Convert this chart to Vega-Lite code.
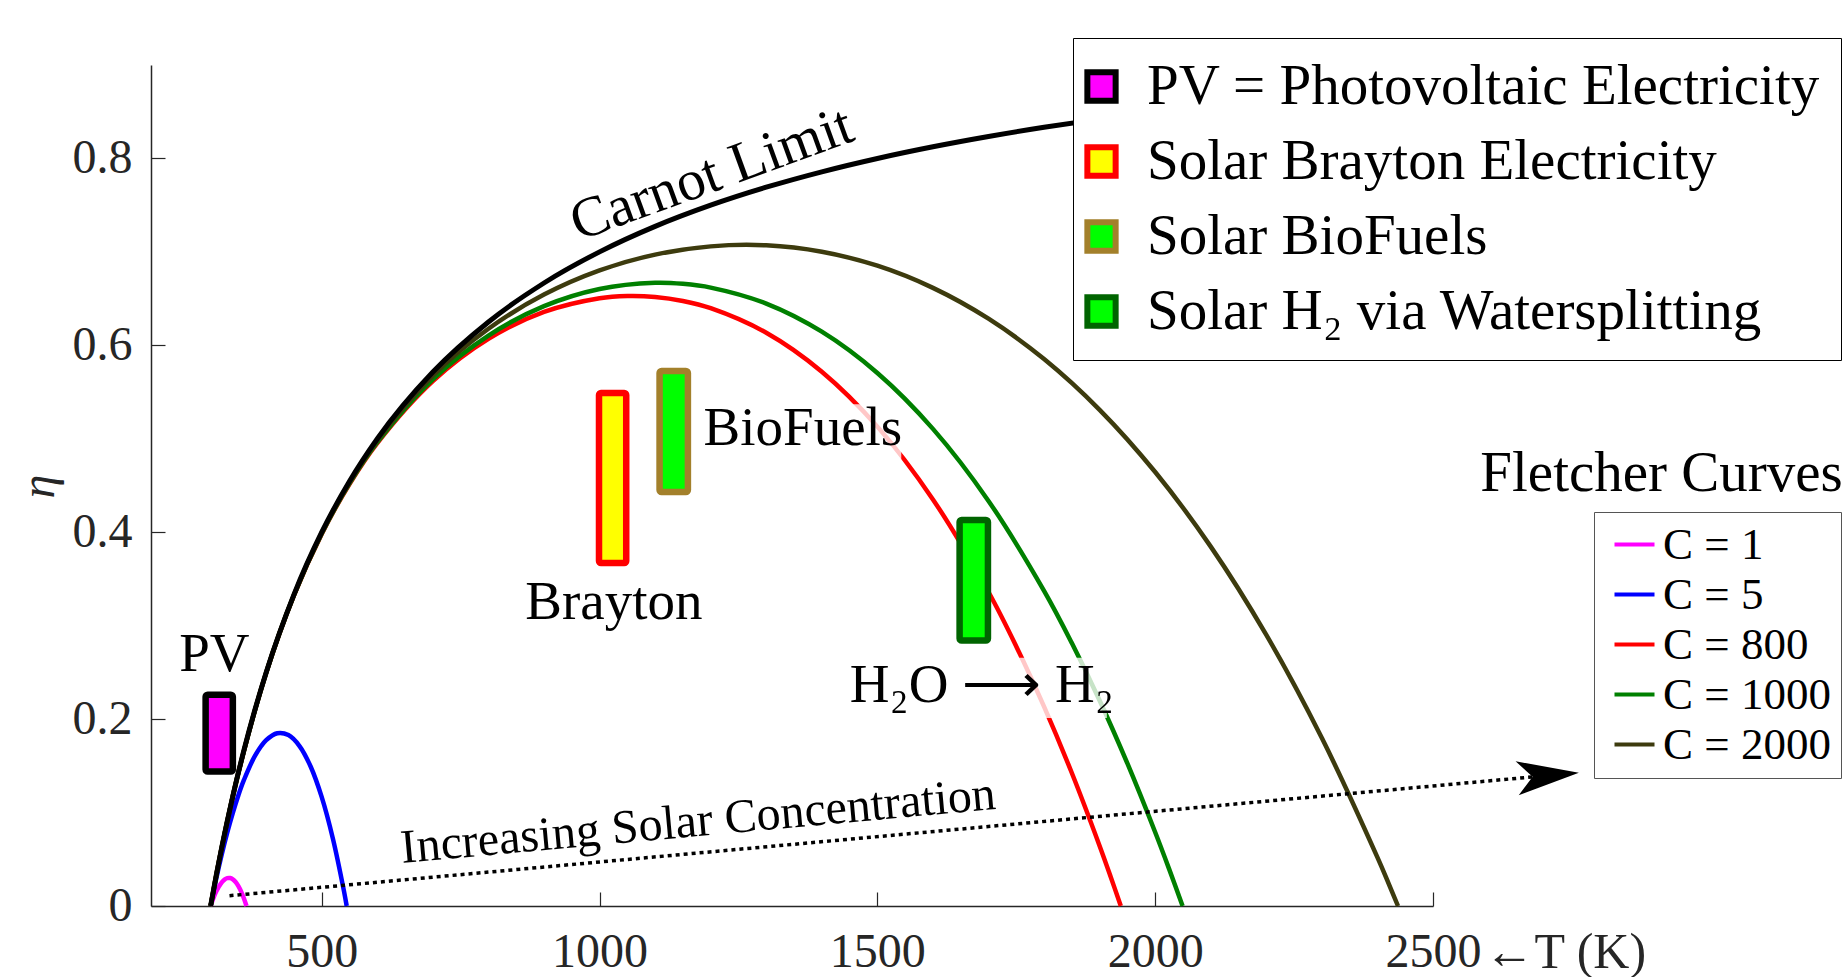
{
  "$schema": "https://vega.github.io/schema/vega-lite/v6.json",
  "width": 1282,
  "height": 841,
  "autosize": {"type": "none"},
  "padding": {"left": 151, "top": 65, "right": 412, "bottom": 71},
  "background": "white",
  "config": {"view": {"stroke": null}, "font": "Liberation Serif"},
  "encoding": {
    "x": {
      "field": "T", "type": "quantitative",
      "scale": {"domain": [192.7, 2500], "nice": false, "zero": false},
      "axis": {
        "values": [500, 1000, 1500, 2000, 2500], "format": "d", "grid": false,
        "title": "←T (K)", "tickSize": -14, "tickColor": "#262626", "tickWidth": 1.2,
        "domainColor": "#262626", "domainWidth": 1.5,
        "labelFont": "Liberation Serif", "labelFontSize": 48, "labelColor": "#262626",
        "labelBaseline": "alphabetic", "labelPadding": 74, "labelFlush": false, "labelOverlap": false,
        "titleFont": "Liberation Serif", "titleFontSize": 50, "titleFontWeight": "normal", "titleColor": "#262626",
        "titleX": 1333, "titleY": 61, "titleAlign": "left", "titleBaseline": "alphabetic", "titleAngle": 0
      }
    },
    "y": {
      "field": "eta", "type": "quantitative",
      "scale": {"domain": [0, 0.9], "nice": false, "zero": false},
      "axis": {
        "values": [0, 0.2, 0.4, 0.6, 0.8], "format": "~g", "grid": false,
        "title": "η", "tickSize": -14, "tickColor": "#262626", "tickWidth": 1.2,
        "domainColor": "#262626", "domainWidth": 1.5,
        "labelFont": "Liberation Serif", "labelFontSize": 48, "labelColor": "#262626",
        "labelPadding": 33, "labelFlush": false, "labelOverlap": false,
        "titleFont": "Liberation Serif", "titleFontSize": 48, "titleFontWeight": "normal", "titleFontStyle": "italic", "titleColor": "#262626",
        "titleX": -98, "titleY": 421, "titleAlign": "center", "titleBaseline": "alphabetic", "titleAngle": 270
      }
    }
  },
  "layer": [
    {
      "data": {"values": [
        {"curve": "C = 1", "T": 300, "eta": 0}, {"curve": "C = 1", "T": 310, "eta": 0.0154}, {"curve": "C = 1", "T": 320, "eta": 0.0253}, {"curve": "C = 1", "T": 325, "eta": 0.0283}, {"curve": "C = 1", "T": 330, "eta": 0.0298}, {"curve": "C = 1", "T": 335, "eta": 0.0299}, {"curve": "C = 1", "T": 340, "eta": 0.0285}, {"curve": "C = 1", "T": 345, "eta": 0.0257}, {"curve": "C = 1", "T": 350, "eta": 0.0213}, {"curve": "C = 1", "T": 355, "eta": 0.0154}, {"curve": "C = 1", "T": 360, "eta": 0.008}, {"curve": "C = 1", "T": 364.6, "eta": 0},
        {"curve": "C = 5", "T": 300, "eta": 0}, {"curve": "C = 5", "T": 310, "eta": 0.0289}, {"curve": "C = 5", "T": 320, "eta": 0.0551}, {"curve": "C = 5", "T": 330, "eta": 0.0787}, {"curve": "C = 5", "T": 340, "eta": 0.0998}, {"curve": "C = 5", "T": 350, "eta": 0.1186}, {"curve": "C = 5", "T": 360, "eta": 0.1349}, {"curve": "C = 5", "T": 380, "eta": 0.1608}, {"curve": "C = 5", "T": 400, "eta": 0.1774}, {"curve": "C = 5", "T": 420, "eta": 0.1849}, {"curve": "C = 5", "T": 440, "eta": 0.1829}, {"curve": "C = 5", "T": 460, "eta": 0.1712}, {"curve": "C = 5", "T": 480, "eta": 0.1493}, {"curve": "C = 5", "T": 500, "eta": 0.1165}, {"curve": "C = 5", "T": 520, "eta": 0.0723}, {"curve": "C = 5", "T": 540, "eta": 0.0159}, {"curve": "C = 5", "T": 544.9, "eta": 0},
        {"curve": "C = 800", "T": 300, "eta": 0}, {"curve": "C = 800", "T": 310, "eta": 0.0322}, {"curve": "C = 800", "T": 320, "eta": 0.0624}, {"curve": "C = 800", "T": 350, "eta": 0.1427}, {"curve": "C = 800", "T": 400, "eta": 0.2496}, {"curve": "C = 800", "T": 450, "eta": 0.3324}, {"curve": "C = 800", "T": 500, "eta": 0.3982}, {"curve": "C = 800", "T": 550, "eta": 0.4516}, {"curve": "C = 800", "T": 600, "eta": 0.4954}, {"curve": "C = 800", "T": 700, "eta": 0.5617}, {"curve": "C = 800", "T": 800, "eta": 0.6069}, {"curve": "C = 800", "T": 900, "eta": 0.6357}, {"curve": "C = 800", "T": 1000, "eta": 0.6504}, {"curve": "C = 800", "T": 1050, "eta": 0.6528}, {"curve": "C = 800", "T": 1100, "eta": 0.6518}, {"curve": "C = 800", "T": 1150, "eta": 0.6475}, {"curve": "C = 800", "T": 1200, "eta": 0.6398}, {"curve": "C = 800", "T": 1300, "eta": 0.6135}, {"curve": "C = 800", "T": 1400, "eta": 0.5718}, {"curve": "C = 800", "T": 1500, "eta": 0.513}, {"curve": "C = 800", "T": 1600, "eta": 0.4351}, {"curve": "C = 800", "T": 1700, "eta": 0.336}, {"curve": "C = 800", "T": 1750, "eta": 0.2778}, {"curve": "C = 800", "T": 1800, "eta": 0.2133}, {"curve": "C = 800", "T": 1850, "eta": 0.1423}, {"curve": "C = 800", "T": 1900, "eta": 0.0643}, {"curve": "C = 800", "T": 1920, "eta": 0.0311}, {"curve": "C = 800", "T": 1938.1, "eta": 0},
        {"curve": "C = 1000", "T": 300, "eta": 0}, {"curve": "C = 1000", "T": 310, "eta": 0.0322}, {"curve": "C = 1000", "T": 320, "eta": 0.0625}, {"curve": "C = 1000", "T": 350, "eta": 0.1427}, {"curve": "C = 1000", "T": 400, "eta": 0.2496}, {"curve": "C = 1000", "T": 450, "eta": 0.3326}, {"curve": "C = 1000", "T": 500, "eta": 0.3986}, {"curve": "C = 1000", "T": 550, "eta": 0.4522}, {"curve": "C = 1000", "T": 600, "eta": 0.4963}, {"curve": "C = 1000", "T": 700, "eta": 0.5637}, {"curve": "C = 1000", "T": 800, "eta": 0.6105}, {"curve": "C = 1000", "T": 900, "eta": 0.6419}, {"curve": "C = 1000", "T": 1000, "eta": 0.6603}, {"curve": "C = 1000", "T": 1100, "eta": 0.6669}, {"curve": "C = 1000", "T": 1150, "eta": 0.6658}, {"curve": "C = 1000", "T": 1200, "eta": 0.6618}, {"curve": "C = 1000", "T": 1300, "eta": 0.6447}, {"curve": "C = 1000", "T": 1400, "eta": 0.6146}, {"curve": "C = 1000", "T": 1500, "eta": 0.5704}, {"curve": "C = 1000", "T": 1600, "eta": 0.5106}, {"curve": "C = 1000", "T": 1700, "eta": 0.4335}, {"curve": "C = 1000", "T": 1800, "eta": 0.3373}, {"curve": "C = 1000", "T": 1850, "eta": 0.2814}, {"curve": "C = 1000", "T": 1900, "eta": 0.2199}, {"curve": "C = 1000", "T": 1950, "eta": 0.1525}, {"curve": "C = 1000", "T": 2000, "eta": 0.0789}, {"curve": "C = 1000", "T": 2025, "eta": 0.0397}, {"curve": "C = 1000", "T": 2049.3, "eta": 0},
        {"curve": "C = 2000", "T": 300, "eta": 0}, {"curve": "C = 2000", "T": 310, "eta": 0.0323}, {"curve": "C = 2000", "T": 320, "eta": 0.0625}, {"curve": "C = 2000", "T": 350, "eta": 0.1428}, {"curve": "C = 2000", "T": 400, "eta": 0.2498}, {"curve": "C = 2000", "T": 450, "eta": 0.333}, {"curve": "C = 2000", "T": 500, "eta": 0.3993}, {"curve": "C = 2000", "T": 550, "eta": 0.4534}, {"curve": "C = 2000", "T": 600, "eta": 0.4982}, {"curve": "C = 2000", "T": 700, "eta": 0.5675}, {"curve": "C = 2000", "T": 800, "eta": 0.6177}, {"curve": "C = 2000", "T": 900, "eta": 0.6543}, {"curve": "C = 2000", "T": 1000, "eta": 0.6802}, {"curve": "C = 2000", "T": 1100, "eta": 0.6971}, {"curve": "C = 2000", "T": 1200, "eta": 0.7059}, {"curve": "C = 2000", "T": 1300, "eta": 0.707}, {"curve": "C = 2000", "T": 1400, "eta": 0.7001}, {"curve": "C = 2000", "T": 1500, "eta": 0.6852}, {"curve": "C = 2000", "T": 1600, "eta": 0.6615}, {"curve": "C = 2000", "T": 1700, "eta": 0.6285}, {"curve": "C = 2000", "T": 1800, "eta": 0.5853}, {"curve": "C = 2000", "T": 1900, "eta": 0.531}, {"curve": "C = 2000", "T": 2000, "eta": 0.4644}, {"curve": "C = 2000", "T": 2100, "eta": 0.3846}, {"curve": "C = 2000", "T": 2200, "eta": 0.2901}, {"curve": "C = 2000", "T": 2300, "eta": 0.1797}, {"curve": "C = 2000", "T": 2400, "eta": 0.052}, {"curve": "C = 2000", "T": 2420, "eta": 0.0242}, {"curve": "C = 2000", "T": 2437, "eta": 0}
      ]},
      "mark": {"type": "line", "strokeWidth": 4.5, "interpolate": "catmull-rom"},
      "encoding": {
        "color": {
          "field": "curve", "type": "nominal",
          "scale": {"domain": ["C = 1", "C = 5", "C = 800", "C = 1000", "C = 2000"], "range": ["#ff00ff", "#0000ff", "#ff0000", "#008000", "#3d3b0e"]},
          "legend": {
            "orient": "none", "legendX": 1443, "legendY": 447, "title": null,
            "symbolType": "stroke", "symbolSize": 1600, "symbolStrokeWidth": 4,
            "labelFont": "Liberation Serif", "labelFontSize": 45, "labelColor": "black", "labelLimit": 1000,
            "strokeColor": "#555555", "fillColor": "white", "padding": 10, "rowPadding": 4, "labelOffset": 6, "symbolOffset": 8
          }
        }
      }
    },
    {
      "data": {"values": [
        {"T": 300, "eta": 0}, {"T": 310, "eta": 0.0323}, {"T": 320, "eta": 0.0625}, {"T": 340, "eta": 0.1176}, {"T": 360, "eta": 0.1667}, {"T": 380, "eta": 0.2105}, {"T": 400, "eta": 0.25}, {"T": 450, "eta": 0.3333}, {"T": 500, "eta": 0.4}, {"T": 550, "eta": 0.4545}, {"T": 600, "eta": 0.5}, {"T": 700, "eta": 0.5714}, {"T": 800, "eta": 0.625}, {"T": 900, "eta": 0.6667}, {"T": 1000, "eta": 0.7}, {"T": 1100, "eta": 0.7273}, {"T": 1200, "eta": 0.75}, {"T": 1300, "eta": 0.7692}, {"T": 1400, "eta": 0.7857}, {"T": 1500, "eta": 0.8}, {"T": 1600, "eta": 0.8125}, {"T": 1700, "eta": 0.8235}, {"T": 1800, "eta": 0.8333}, {"T": 1900, "eta": 0.8421}, {"T": 2000, "eta": 0.85}, {"T": 2200, "eta": 0.8636}, {"T": 2400, "eta": 0.875}, {"T": 2500, "eta": 0.88}
      ]},
      "mark": {"type": "line", "color": "black", "strokeWidth": 5, "interpolate": "monotone"}
    },
    {
      "data": {"values": [{"T": 334, "eta": 0.011}, {"T": 2680, "eta": 0.1382}]},
      "mark": {"type": "line", "color": "black", "strokeWidth": 3.5, "strokeDash": [4, 4], "strokeCap": "butt"}
    },
    {
      "data": {"values": [{"T": 2707, "eta": 0.1397}]},
      "mark": {"type": "point", "shape": "M 1 0 L -1 -0.55 L -0.5 0 L -1 0.55 Z", "size": 3844, "angle": -5.2, "filled": true, "color": "black", "opacity": 1, "strokeWidth": 0}
    },
    {
      "data": {"values": [
        {"tech": "PV = Photovoltaic Electricity", "T": 291, "T2": 340, "eta": 0.144, "eta2": 0.226},
        {"tech": "Solar Brayton Electricity", "T": 999, "T2": 1048, "eta": 0.367, "eta2": 0.549},
        {"tech": "Solar BioFuels", "T": 1108, "T2": 1159, "eta": 0.443, "eta2": 0.5725},
        {"tech": "Solar H₂ via Watersplitting", "T": 1648, "T2": 1699, "eta": 0.284, "eta2": 0.413}
      ]},
      "mark": {"type": "rect", "strokeWidth": 6.5, "cornerRadius": 2, "strokeJoin": "round"},
      "encoding": {
        "x2": {"field": "T2"},
        "y2": {"field": "eta2"},
        "fill": {
          "field": "tech", "type": "nominal",
          "scale": {"domain": ["PV = Photovoltaic Electricity", "Solar Brayton Electricity", "Solar BioFuels", "Solar H₂ via Watersplitting"], "range": ["#ff00ff", "#ffff00", "#00ff00", "#00ff00"]},
          "legend": {
            "orient": "none", "legendX": 922, "legendY": -27, "title": null,
            "symbolType": "square", "symbolSize": 800, "symbolStrokeWidth": 6,
            "labelFont": "Liberation Serif", "labelFontSize": 57, "labelColor": "black", "labelLimit": 2000,
            "strokeColor": "black", "fillColor": "white", "padding": 20, "rowPadding": 17, "labelOffset": 17, "symbolOffset": -20
          }
        },
        "stroke": {
          "field": "tech", "type": "nominal",
          "scale": {"domain": ["PV = Photovoltaic Electricity", "Solar Brayton Electricity", "Solar BioFuels", "Solar H₂ via Watersplitting"], "range": ["#000000", "#ff0000", "#a3802b", "#006400"]},
          "legend": {
            "orient": "none", "legendX": 922, "legendY": -27, "title": null,
            "symbolType": "square", "symbolSize": 800, "symbolStrokeWidth": 6,
            "labelFont": "Liberation Serif", "labelFontSize": 57, "labelColor": "black", "labelLimit": 2000,
            "strokeColor": "black", "fillColor": "white", "padding": 20, "rowPadding": 17, "labelOffset": 17, "symbolOffset": -20
          }
        }
      }
    },
    {
      "data": {"values": [
        {"T": 1465, "T2": 1913, "eta": 0.2013, "eta2": 0.2656},
        {"T": 1181, "T2": 1543, "eta": 0.469, "eta2": 0.537}
      ]},
      "mark": {"type": "rect", "fill": "white", "fillOpacity": 0.78, "strokeWidth": 0},
      "encoding": {"x2": {"field": "T2"}, "y2": {"field": "eta2"}}
    },
    {
      "data": {"values": [
        {"label": "PV", "T": 306.6, "eta": 0.252},
        {"label": "Brayton", "T": 1025.7, "eta": 0.307},
        {"label": "BioFuels", "T": 1366, "eta": 0.4936},
        {"label": "H₂O ⟶ H₂", "T": 1688, "eta": 0.2188}
      ]},
      "mark": {"type": "text", "font": "Liberation Serif", "fontSize": 55, "align": "center", "baseline": "alphabetic", "color": "black"},
      "encoding": {"text": {"field": "label"}}
    },
    {
      "data": {"values": [{"label": "Carnot Limit", "T": 1212.5, "eta": 0.7658}]},
      "mark": {"type": "text", "font": "Liberation Serif", "fontSize": 57, "align": "center", "baseline": "alphabetic", "angle": -20, "color": "black"},
      "encoding": {"text": {"field": "label"}}
    },
    {
      "data": {"values": [{"label": "Increasing Solar Concentration", "T": 1179.7, "eta": 0.075}]},
      "mark": {"type": "text", "font": "Liberation Serif", "fontSize": 48, "align": "center", "baseline": "alphabetic", "angle": -5.2, "color": "black"},
      "encoding": {"text": {"field": "label"}}
    },
    {
      "data": {"values": [{"label": "Fletcher Curves", "T": 3237.5, "eta": 0.4436}]},
      "mark": {"type": "text", "font": "Liberation Serif", "fontSize": 57, "align": "right", "baseline": "alphabetic", "color": "black"},
      "encoding": {"text": {"field": "label"}}
    }
  ]
}
